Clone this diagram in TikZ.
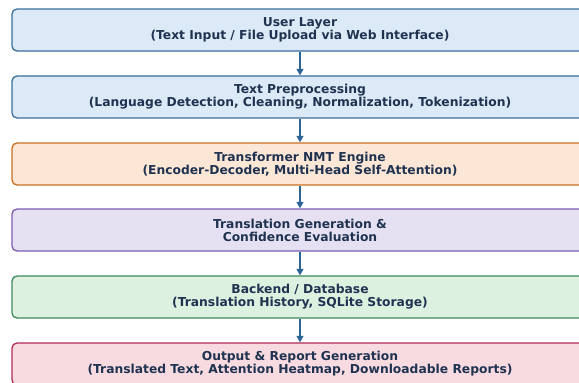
\documentclass[tikz,border=0pt]{standalone}
\usepackage{fontspec}
\setmainfont{DejaVu Sans}
\usetikzlibrary{arrows.meta}
\definecolor{txt}{HTML}{1F3350}
\definecolor{arr}{HTML}{2C6496}
\definecolor{f1}{HTML}{DCE9F6}\definecolor{d1}{HTML}{3A6E9C}
\definecolor{f3}{HTML}{FCE6D6}\definecolor{d3}{HTML}{C8701E}
\definecolor{f4}{HTML}{E6E0F3}\definecolor{d4}{HTML}{7B5BB2}
\definecolor{f5}{HTML}{DDF1E1}\definecolor{d5}{HTML}{3D8A58}
\definecolor{f6}{HTML}{F8DAE1}\definecolor{d6}{HTML}{B02B55}
\tikzset{
  layer/.style={draw, line width=1.3pt, rounded corners=5pt, minimum width=576pt, minimum height=42pt, inner sep=0pt, align=center, text=txt, font=\fontsize{12.3}{13}\selectfont\bfseries},
  flow/.style={draw=arr, line width=1.2pt, -{Triangle[length=6.5pt,width=7pt]}}
}
\begin{document}
\begin{tikzpicture}[x=1pt,y=-1pt]
\useasboundingbox (0,0) rectangle (579,383);
\begin{scope}
\clip (0,0) rectangle (579,383);
\node[layer, draw=d1, fill=f1] (n1) at (300,30) {User Layer\\(Text Input / File Upload via Web Interface)};
\node[layer, draw=d1, fill=f1] (n2) at (300,97) {Text Preprocessing\\(Language Detection, Cleaning, Normalization, Tokenization)};
\node[layer, draw=d3, fill=f3] (n3) at (300,164) {Transformer NMT Engine\\(Encoder-Decoder, Multi-Head Self-Attention)};
\node[layer, draw=d4, fill=f4] (n4) at (300,230) {Translation Generation \&\\Confidence Evaluation};
\node[layer, draw=d5, fill=f5] (n5) at (300,297) {Backend / Database\\(Translation History, SQLite Storage)};
\node[layer, draw=d6, fill=f6] (n6) at (300,364) {Output \& Report Generation\\(Translated Text, Attention Heatmap, Downloadable Reports)};
\draw[flow] (n1) -- (n2);
\draw[flow] (n2) -- (n3);
\draw[flow] (n3) -- (n4);
\draw[flow] (n4) -- (n5);
\draw[flow] (n5) -- (n6);
\end{scope}
\end{tikzpicture}
\end{document}
